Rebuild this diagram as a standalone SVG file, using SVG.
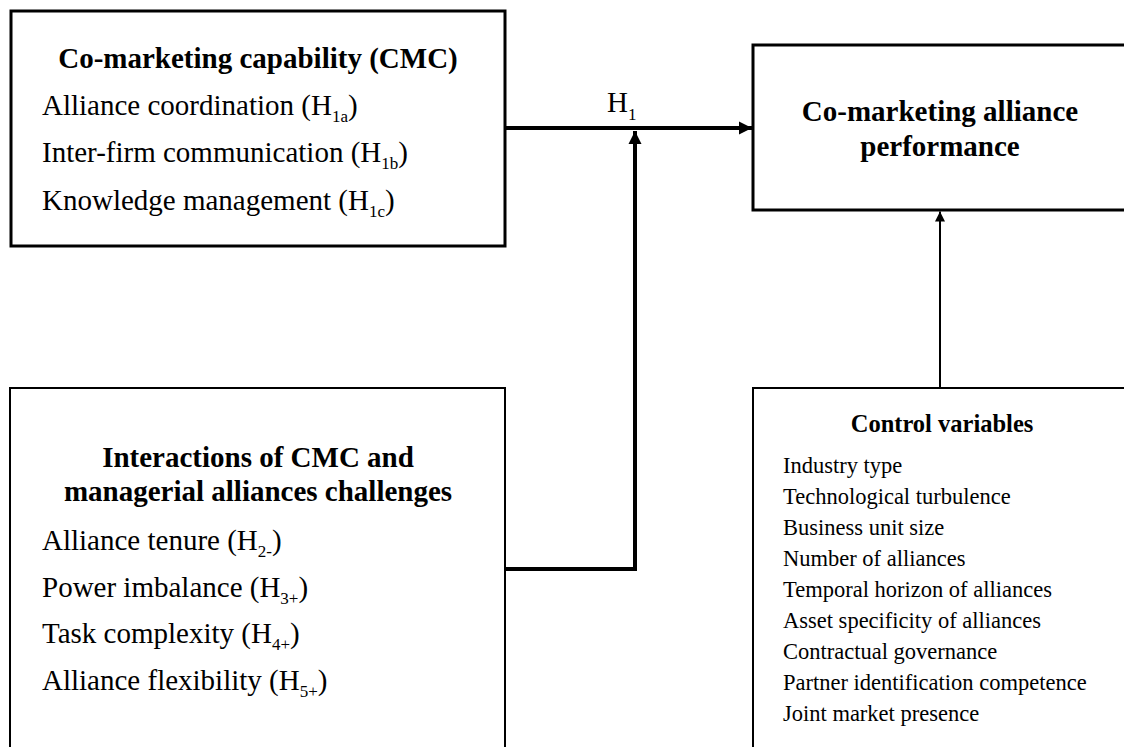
<svg xmlns="http://www.w3.org/2000/svg" width="1124" height="747" viewBox="0 0 1124 747">
<defs>
<style>
text{font-family:"Liberation Serif","Times New Roman",serif;fill:#000}
.b{font-weight:bold}
.t1{font-size:29px}
.t3{font-size:24.5px}
.t4{font-size:22.5px}
.s{font-size:17px}
.box{fill:#fff;stroke:#000}
.c{fill:none;stroke:#000}
</style>
<marker id="ah" viewBox="0 0 10 10" refX="10" refY="5" markerWidth="3.4" markerHeight="3.3" orient="auto" markerUnits="strokeWidth"><path d="M0,0 L10,5 L0,10 z" fill="#000"/></marker>
<marker id="ah2" viewBox="0 0 10 10" refX="10" refY="5" markerWidth="5.5" markerHeight="5" orient="auto" markerUnits="strokeWidth"><path d="M0,0 L10,5 L0,10 z" fill="#000"/></marker>
</defs>
<rect width="1124" height="747" fill="#fff"/>
<g id="cmc">
<rect class="box" x="11" y="11" width="494" height="235" stroke-width="3"/>
<text class="t1 b" x="258" y="68" text-anchor="middle">Co-marketing capability (CMC)</text>
<text class="t1" x="42" y="115">Alliance coordination (H<tspan class="s" dy="7">1a</tspan><tspan dy="-7">)</tspan></text>
<text class="t1" x="42" y="162">Inter-firm communication (H<tspan class="s" dy="7">1b</tspan><tspan dy="-7">)</tspan></text>
<text class="t1" x="42" y="210">Knowledge management (H<tspan class="s" dy="7">1c</tspan><tspan dy="-7">)</tspan></text>
</g>
<g id="performance">
<rect class="box" x="753" y="45" width="390" height="165" stroke-width="3"/>
<text class="t1 b" x="940" y="121" text-anchor="middle">Co-marketing alliance</text>
<text class="t1 b" x="940" y="156" text-anchor="middle">performance</text>
</g>
<g id="interactions">
<rect class="box" x="10" y="388" width="495" height="400" stroke-width="2"/>
<text class="t1 b" x="258" y="467" text-anchor="middle">Interactions of CMC and</text>
<text class="t1 b" x="258" y="501" text-anchor="middle">managerial alliances challenges</text>
<text class="t1" x="42" y="550">Alliance tenure (H<tspan class="s" dy="7">2-</tspan><tspan dy="-7">)</tspan></text>
<text class="t1" x="42" y="597">Power imbalance (H<tspan class="s" dy="7">3+</tspan><tspan dy="-7">)</tspan></text>
<text class="t1" x="42" y="643">Task complexity (H<tspan class="s" dy="7">4+</tspan><tspan dy="-7">)</tspan></text>
<text class="t1" x="42" y="690">Alliance flexibility (H<tspan class="s" dy="7">5+</tspan><tspan dy="-7">)</tspan></text>
</g>
<g id="controls">
<rect class="box" x="753" y="388" width="400" height="400" stroke-width="2"/>
<text class="t3 b" x="942" y="432" text-anchor="middle">Control variables</text>
<text class="t4" x="783" y="473">Industry type</text>
<text class="t4" x="783" y="504">Technological turbulence</text>
<text class="t4" x="783" y="535">Business unit size</text>
<text class="t4" x="783" y="566">Number of alliances</text>
<text class="t4" x="783" y="597">Temporal horizon of alliances</text>
<text class="t4" x="783" y="628">Asset specificity of alliances</text>
<text class="t4" x="783" y="659">Contractual governance</text>
<text class="t4" x="783" y="690">Partner identification competence</text>
<text class="t4" x="783" y="721">Joint market presence</text>
</g>
<g id="connectors">
<line class="c" x1="505" y1="128" x2="752" y2="128" stroke-width="4" marker-end="url(#ah)"/>
<text class="t1" x="607" y="112">H<tspan class="s" dy="8">1</tspan></text>
<polyline class="c" points="505,569 635,569 635,131" stroke-width="4" marker-end="url(#ah)"/>
<line class="c" x1="940" y1="388" x2="940" y2="211.5" stroke-width="2" marker-end="url(#ah2)"/>
</g>
</svg>
